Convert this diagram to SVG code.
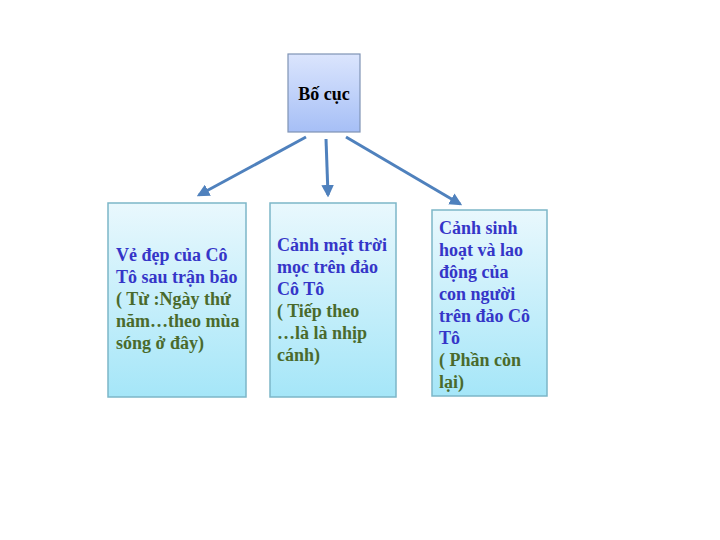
<svg xmlns="http://www.w3.org/2000/svg" width="720" height="540" viewBox="0 0 720 540">
<defs>
<linearGradient id="gTop" x1="0" y1="0" x2="0" y2="1"><stop offset="0" stop-color="#dbe5fd"/><stop offset="1" stop-color="#a6bff6"/></linearGradient>
<linearGradient id="gBox" x1="0" y1="0" x2="0" y2="1"><stop offset="0" stop-color="#e9f8fd"/><stop offset="1" stop-color="#a5e6f8"/></linearGradient>
<marker id="ah" viewBox="0 0 10 10" refX="8" refY="5" markerWidth="4.2" markerHeight="4.2" orient="auto"><path d="M0,0 L10,5 L0,10 z" fill="#4f81bd"/></marker>
<style>
text{font-family:"Liberation Serif","Times New Roman",serif;font-weight:bold;font-size:18px}
.b{fill:#3535c8}.g{fill:#4a6a2c}
.box{fill:url(#gBox);stroke:#7cb6c8;stroke-width:1.5}
.c{stroke:#4f81bd;stroke-width:3;fill:none;marker-end:url(#ah)}
</style>
</defs>
<g id="connectors">
<line class="c" x1="306" y1="137" x2="199" y2="195"/>
<line class="c" x1="326" y1="139" x2="328" y2="195"/>
<line class="c" x1="346" y1="137" x2="460" y2="204"/>
</g>
<g id="top">
<rect x="288" y="54" width="72" height="78" fill="url(#gTop)" stroke="#7f93b5" stroke-width="1.2"/>
<text x="324" y="100" text-anchor="middle" fill="#000">Bố cục</text>
</g>
<g id="n1">
<rect class="box" x="108" y="203" width="138" height="194"/>
<text x="116" y="261"><tspan class="b">Vẻ đẹp của Cô</tspan><tspan class="b" x="116" dy="22">Tô sau trận bão</tspan><tspan class="g" x="116" dy="22">( Từ :Ngày thứ</tspan><tspan class="g" x="116" dy="22">năm…theo mùa</tspan><tspan class="g" x="116" dy="22">sóng ở đây)</tspan></text>
</g>
<g id="n2">
<rect class="box" x="270" y="203" width="126" height="194"/>
<text x="277" y="251"><tspan class="b">Cảnh mặt trời</tspan><tspan class="b" x="277" dy="22">mọc trên đảo</tspan><tspan class="b" x="277" dy="22">Cô Tô</tspan><tspan class="g" x="277" dy="22">( Tiếp theo</tspan><tspan class="g" x="277" dy="22">…là là nhịp</tspan><tspan class="g" x="277" dy="22">cánh)</tspan></text>
</g>
<g id="n3">
<rect class="box" x="432" y="210" width="115" height="186"/>
<text x="439" y="234"><tspan class="b">Cảnh sinh</tspan><tspan class="b" x="439" dy="22">hoạt và lao</tspan><tspan class="b" x="439" dy="22">động của</tspan><tspan class="b" x="439" dy="22">con người</tspan><tspan class="b" x="439" dy="22">trên đảo Cô</tspan><tspan class="b" x="439" dy="22">Tô</tspan><tspan class="g" x="439" dy="22">( Phần còn</tspan><tspan class="g" x="439" dy="22">lại)</tspan></text>
</g>
</svg>
